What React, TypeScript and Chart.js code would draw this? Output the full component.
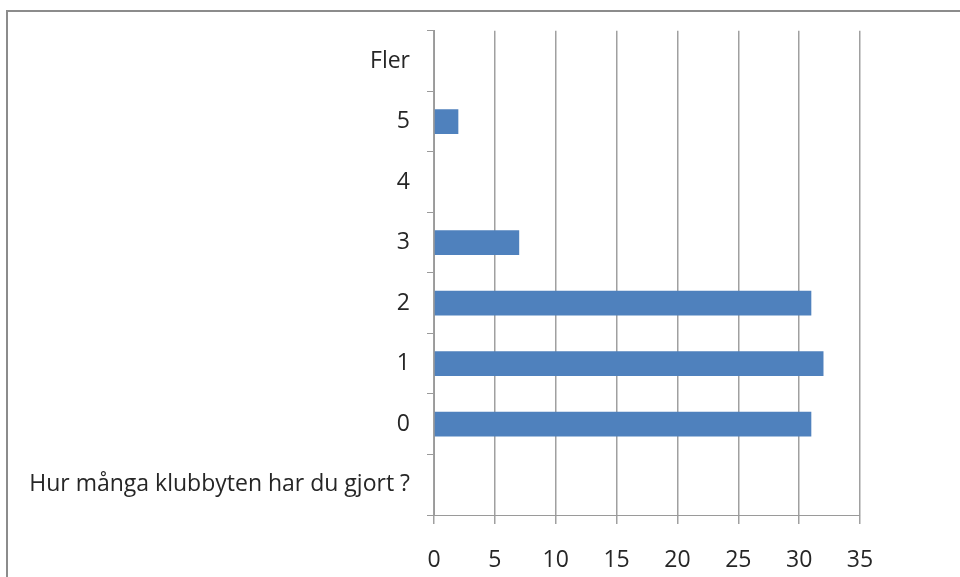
import React, { useEffect, useRef } from "react";
import { Chart, registerables } from "chart.js";

Chart.register(...registerables);

// Categories from bottom to top, as in the source sheet
const categories = ["Hur många klubbyten har du gjort ?", "0", "1", "2", "3", "4", "5", "Fler"];
const counts = [0, 31, 32, 31, 7, 0, 2, 0];
const xMin = 0;
const xMax = 35;
const xStep = 5;

const framePlugin = {
  id: "frame",
  beforeDraw(chart: any) {
    const { ctx, width, height } = chart;
    ctx.save();
    ctx.fillStyle = "#ffffff";
    ctx.fillRect(0, 0, width, height);
    ctx.strokeStyle = "#8c8c8c";
    ctx.lineWidth = 2;
    ctx.beginPath();
    ctx.moveTo(7, height);
    ctx.lineTo(7, 11);
    ctx.lineTo(width, 11);
    ctx.stroke();
    ctx.restore();
  },
};

export default function App() {
  const ref = useRef<HTMLCanvasElement>(null);
  useEffect(() => {
    if (!ref.current) return;
    const font = { family: "'Open Sans', Lato, sans-serif", size: 23 };
    const chart = new Chart(ref.current, {
      type: "bar",
      data: {
        labels: categories,
        datasets: [
          {
            data: counts,
            backgroundColor: "#4f81bd",
            borderWidth: 0,
            categoryPercentage: 1,
            barPercentage: 0.41,
          },
        ],
      },
      options: {
        indexAxis: "y",
        responsive: false,
        animation: false,
        layout: { padding: { left: 0, top: 29, right: 100, bottom: 0 } },
        plugins: {
          legend: { display: false },
          tooltip: { enabled: false },
        },
        scales: {
          y: {
            reverse: true,
            afterFit(scale: any) {
              scale.width = 434;
            },
            grid: {
              offset: true,
              drawOnChartArea: false,
              drawTicks: true,
              tickLength: 7,
              color: "#9a9a9a",
              lineWidth: 1,
            },
            border: { color: "#9a9a9a", width: 1 },
            ticks: { color: "#262626", font, padding: 17, autoSkip: false },
          },
          x: {
            min: xMin,
            max: xMax,
            afterFit(scale: any) {
              scale.height = 62;
            },
            grid: {
              drawOnChartArea: true,
              drawTicks: true,
              tickLength: 9,
              color: "#a0a0a0",
              lineWidth: 1.5,
            },
            border: { color: "#9a9a9a", width: 1 },
            ticks: { stepSize: xStep, color: "#262626", font, padding: 23 },
          },
        },
      },
      plugins: [framePlugin],
    } as any);
    return () => chart.destroy();
  }, []);
  return (
    <canvas
      ref={ref}
      width={960}
      height={577}
      style={{ position: "absolute", left: 0, top: 0, display: "block" }}
    />
  );
}
